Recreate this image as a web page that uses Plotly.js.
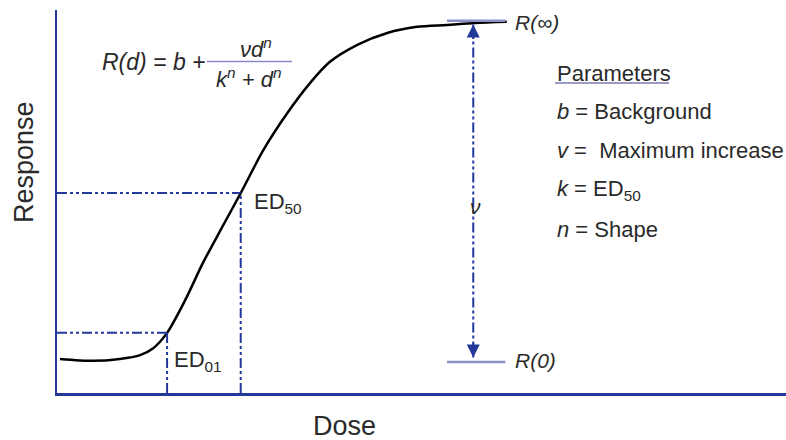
<!DOCTYPE html>
<html><head><meta charset="utf-8">
<script src="https://cdn.plot.ly/plotly-3.0.1.min.js"></script>
<style>html,body{margin:0;padding:0;background:#fff}#chart{width:786px;height:440px}</style>
</head><body><div id="chart"></div>
<script>
// Dose-response curve (dose and response in arbitrary units 0-10)
const dose     = [0.04, 0.49, 0.86, 1.14, 1.32, 1.51, 1.76, 2.00, 2.26, 2.52, 2.83, 3.16, 3.47, 3.74, 4.12, 4.53, 4.94, 5.35, 5.73, 6.17];
const response = [0.89, 0.84, 0.89, 0.99, 1.17, 1.57, 2.43, 3.39, 4.31, 5.22, 6.34, 7.31, 8.09, 8.64, 9.09, 9.40, 9.56, 9.61, 9.66, 9.69];
// Reference points
const edDose = [1.51, 2.52];      // ED01, ED50
const edResp = [1.57, 5.22];
const edLabels = ['ED<sub>01</sub>', 'ED<sub>50</sub>'];
const R0 = 0.81, Rinf = 9.72;     // R(0), R(inf)
const vDose = 5.71;               // position of the v arrow
const rLineDose = [5.35, 6.15];   // extent of the R(0)/R(inf) marks
const paramLines = ['<i>b</i> = Background', '<i>v</i> =  Maximum increase', '<i>k</i> = ED<sub>50</sub>', '<i>n</i> = Shape'];

const W = 786, H = 440, M = {l:57, r:0, t:10, b:47};
const PW = W - M.l - M.r, PH = H - M.t - M.b;
const px = x => (x - M.l) / PW, py = y => (H - M.b - y) / PH;

const blue = '#23399a', txt = '#2a2a2a';
const dashPat = '10px,3px,3px,3px,3px,3px';
const FONT = 'Arial, "Liberation Sans", sans-serif';

const traces = [{
  x: dose, y: response, mode: 'lines', type: 'scatter',
  line: {color: '#000', width: 2.5, shape: 'spline', smoothing: 0.8},
  hoverinfo: 'skip'
}];

const shapes = [];
edDose.forEach((d, i) => {
  shapes.push({type:'line', xref:'x', yref:'y', x0:0, x1:d, y0:edResp[i], y1:edResp[i], line:{color:blue, width:2, dash:dashPat}});
  shapes.push({type:'line', xref:'x', yref:'y', x0:d, x1:d, y0:0, y1:edResp[i], line:{color:blue, width:2, dash:dashPat}});
});
[R0, Rinf].forEach(r => shapes.push({type:'line', xref:'x', yref:'y', x0:rLineDose[0], x1:rLineDose[1], y0:r, y1:r, line:{color:'#8c90c2', width:2.5}}));
shapes.push({type:'line', xref:'x', yref:'y', x0:vDose, x1:vDose, y0:R0 + 0.12, y1:Rinf - 0.1, line:{color:blue, width:2, dash:dashPat}});
// fraction bar
shapes.push({type:'line', xref:'paper', yref:'paper', x0:px(207), x1:px(292), y0:py(61.5), y1:py(61.5), line:{color:'#8a8ac8', width:1.5}});
// underline for Parameters
shapes.push({type:'line', xref:'paper', yref:'paper', x0:px(555), x1:px(669), y0:py(83), y1:py(83), line:{color:'#7a7ab0', width:1.5}});

const A = (x, y, text, opts = {}) => Object.assign({xref:'paper', yref:'paper', x:px(x), y:py(y), text, showarrow:false, font:{family:FONT, size:22, color:txt}, xanchor:'left', yanchor:'middle'}, opts);

const annotations = [
  A(208, 62, '<i>R(d) = b +</i>', {xanchor:'right', font:{family:FONT, size:23, color:txt}}),
  A(256, 48, '<i>νd<sup>n</sup></i>', {xanchor:'center', font:{family:FONT, size:22, color:txt}}),
  A(248, 78, '<i>k<sup>n</sup> + d<sup>n</sup></i>', {xanchor:'center', font:{family:FONT, size:22, color:txt}}),
  A(513, 22, '<i>R(∞)</i>', {font:{family:FONT, size:21, color:txt}}),
  A(513, 360, '<i>R(0)</i>', {font:{family:FONT, size:21, color:txt}}),
  A(475, 206, '<i>ν</i>', {xanchor:'center', font:{family:FONT, size:21, color:txt}}),
  A(172, 361, edLabels[0]),
  A(252, 203, edLabels[1]),
  A(555, 73, 'Parameters'),
  A(24, 162, 'Response', {xanchor:'center', textangle:-90, font:{family:FONT, size:27, color:txt}}),
  A(344, 426, 'Dose', {xanchor:'center', font:{family:FONT, size:27, color:txt}}),
  // arrow heads
  {xref:'x', yref:'y', x:vDose, y:R0 + 0.12, ax:0, ay:-16, text:'', showarrow:true, arrowhead:2, arrowsize:1.3, arrowwidth:2, arrowcolor:blue, standoff:0},
  {xref:'x', yref:'y', x:vDose, y:Rinf - 0.1, ax:0, ay:16, text:'', showarrow:true, arrowhead:2, arrowsize:1.3, arrowwidth:2, arrowcolor:blue, standoff:0}
];
paramLines.forEach((t, i) => annotations.push(A(555, 111 + i * 39.5, t)));

const layout = {
  width: W, height: H, margin: M, showlegend: false,
  paper_bgcolor: '#fff', plot_bgcolor: '#fff',
  xaxis: {range:[0,10], showline:true, linecolor:blue, linewidth:2.5, showgrid:false, zeroline:false, showticklabels:false, ticks:''},
  yaxis: {range:[0,10], showline:true, linecolor:blue, linewidth:2, showgrid:false, zeroline:false, showticklabels:false, ticks:''},
  shapes, annotations
};
Plotly.newPlot('chart', traces, layout, {staticPlot:true, displayModeBar:false});
</script></body></html>
